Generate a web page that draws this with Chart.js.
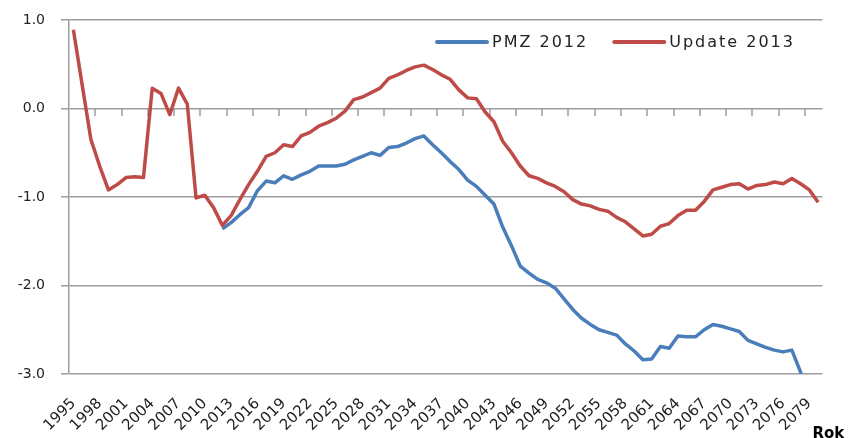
<!DOCTYPE html>
<html>
<head>
<meta charset="utf-8">
<script src="https://cdn.jsdelivr.net/npm/chart.js@4.4.0/dist/chart.umd.min.js"></script>
<style>
  html, body { margin: 0; padding: 0; background: #fff; }
  #wrap { width: 852px; height: 438px; position: relative; }
</style>
</head>
<body>
<div id="wrap"><canvas id="chart"></canvas></div>
<script>
// === Data ===
const years = [
  1995, 1996, 1997, 1998, 1999, 2000, 2001, 2002, 2003, 2004,
  2005, 2006, 2007, 2008, 2009, 2010, 2011, 2012, 2013, 2014,
  2015, 2016, 2017, 2018, 2019, 2020, 2021, 2022, 2023, 2024,
  2025, 2026, 2027, 2028, 2029, 2030, 2031, 2032, 2033, 2034,
  2035, 2036, 2037, 2038, 2039, 2040, 2041, 2042, 2043, 2044,
  2045, 2046, 2047, 2048, 2049, 2050, 2051, 2052, 2053, 2054,
  2055, 2056, 2057, 2058, 2059, 2060, 2061, 2062, 2063, 2064,
  2065, 2066, 2067, 2068, 2069, 2070, 2071, 2072, 2073, 2074,
  2075, 2076, 2077, 2078, 2079, 2080
];

// PMZ 2012 starts in 2012
const pmz2012 = [
  null, null, null, null, null, null, null, null, null, null,
  null, null, null, null, null, null, null, -1.36, -1.29, -1.20,
  -1.12, -0.93, -0.82, -0.84, -0.76, -0.80, -0.75, -0.71, -0.65, -0.65,
  -0.65, -0.63, -0.58, -0.54, -0.50, -0.53, -0.44, -0.43, -0.39, -0.34,
  -0.31, -0.41, -0.50, -0.60, -0.69, -0.81, -0.88, -0.98, -1.08, -1.34,
  -1.55, -1.78, -1.86, -1.93, -1.97, -2.03, -2.15, -2.27, -2.37, -2.44,
  -2.50, -2.53, -2.56, -2.66, -2.74, -2.84, -2.83, -2.69, -2.71, -2.57,
  -2.58, -2.58, -2.50, -2.44, -2.46, -2.49, -2.52, -2.62, -2.66, -2.70,
  -2.73, -2.75, -2.73, -2.98, -3.30, -3.55
];

const update2013 = [
  0.89, 0.27, -0.35, -0.65, -0.92, -0.86, -0.78, -0.77, -0.78, 0.23,
  0.17, -0.07, 0.23, 0.05, -1.01, -0.98, -1.12, -1.32, -1.21, -1.03,
  -0.86, -0.71, -0.54, -0.50, -0.41, -0.43, -0.31, -0.27, -0.20, -0.16,
  -0.11, -0.03, 0.10, 0.13, 0.18, 0.23, 0.34, 0.38, 0.43, 0.47,
  0.49, 0.44, 0.38, 0.33, 0.21, 0.12, 0.11, -0.04, -0.15, -0.37,
  -0.50, -0.65, -0.76, -0.79, -0.84, -0.88, -0.94, -1.03, -1.08, -1.10,
  -1.14, -1.16, -1.23, -1.28, -1.36, -1.44, -1.42, -1.33, -1.30, -1.21,
  -1.15, -1.15, -1.05, -0.92, -0.89, -0.86, -0.85, -0.91, -0.87, -0.86,
  -0.83, -0.85, -0.79, -0.85, -0.92, -1.06
];

const seriesNames = ["PMZ 2012", "Update 2013"];
const seriesColors = ["#4A7EBB", "#BE4B48"];
const yTicks = [-3, -2, -1, 0, 1];
const labelEvery = 3;
const axisTitle = "Rok";

const FONT = "'DejaVu Sans', Verdana, sans-serif";
const GRID = "#9d9d9d";

// === Plugins ===
// small tick marks on the zero line (the category axis crosses there)
const zeroLineTicks = {
  id: "zeroLineTicks",
  beforeDatasetsDraw(chart) {
    const xs = chart.scales.x;
    const ys = chart.scales.y;
    const c = chart.ctx;
    const y0 = Math.round(ys.getPixelForValue(0));
    c.save();
    c.strokeStyle = GRID;
    c.lineWidth = 1.5;
    c.beginPath();
    for (let i = labelEvery; i < years.length - 1; i += labelEvery) {
      const px = Math.round((xs.getPixelForValue(i - 1) + xs.getPixelForValue(i)) / 2);
      c.moveTo(px, y0);
      c.lineTo(px, y0 + 7);
    }
    c.stroke();
    c.restore();
  }
};

// legend inside the plot + axis title in the corner
const insideLegend = {
  id: "insideLegend",
  afterDraw(chart) {
    const c = chart.ctx;
    const area = chart.chartArea;
    c.save();
    c.font = "16px " + FONT;
    c.textBaseline = "middle";
    if ("letterSpacing" in c) c.letterSpacing = "2px";
    let x = area.left + 368;
    const y = area.top + 22;
    chart.data.datasets.forEach((ds) => {
      c.strokeStyle = ds.borderColor;
      c.lineWidth = 4;
      c.lineCap = "round";
      c.beginPath();
      c.moveTo(x, y);
      c.lineTo(x + 50, y);
      c.stroke();
      c.fillStyle = "#222";
      c.fillText(ds.label, x + 55, y + 1);
      x += 55 + c.measureText(ds.label).width + 26;
    });
    if ("letterSpacing" in c) c.letterSpacing = "0px";
    c.font = "bold 15px " + FONT;
    c.textBaseline = "top";
    c.fillStyle = "#000";
    c.fillText(axisTitle, area.right - 10, area.bottom + 53);
    c.restore();
  }
};

// === Chart ===
const ctx = document.getElementById("chart").getContext("2d");
new Chart(ctx, {
  type: "line",
  data: {
    labels: years,
    datasets: [
      {
        label: seriesNames[0],
        data: pmz2012,
        borderColor: seriesColors[0],
        backgroundColor: seriesColors[0],
        borderWidth: 3.5,
        borderJoinStyle: "round",
        pointRadius: 0,
        tension: 0,
        clip: 0,
        order: 1,
      },
      {
        label: seriesNames[1],
        data: update2013,
        borderColor: seriesColors[1],
        backgroundColor: seriesColors[1],
        borderWidth: 3.5,
        borderJoinStyle: "round",
        pointRadius: 0,
        tension: 0,
        clip: 0,
        order: 0,
      },
    ],
  },
  options: {
    responsive: true,
    maintainAspectRatio: false,
    animation: false,
    devicePixelRatio: 1,
    layout: { padding: { top: 20, right: 25, left: 0, bottom: 0 } },
    plugins: {
      legend: { display: false },
      tooltip: { enabled: false },
    },
    scales: {
      x: {
        offset: true,
        grid: { display: false, drawTicks: false },
        border: { display: false },
        ticks: {
          autoSkip: false,
          minRotation: 45,
          maxRotation: 45,
          padding: 21,
          color: "#222",
          font: { size: 15, family: FONT },
          callback: function (v, i) {
            return i % labelEvery === 0 ? String(years[i]) : "";
          },
        },
        afterFit(scale) {
          scale.height = 64;
        },
      },
      y: {
        min: yTicks[0],
        max: yTicks[yTicks.length - 1],
        ticks: {
          stepSize: 1,
          padding: 16,
          color: "#222",
          font: { size: 14, family: FONT },
          callback: (v) => v.toFixed(1),
        },
        grid: { color: GRID, lineWidth: 1.5, tickLength: 8, drawTicks: true },
        border: { display: true, color: GRID, width: 1.5 },
        afterFit(scale) {
          scale.width = 69;
          scale.paddingTop = 0;
          scale.paddingBottom = 0;
        },
      },
    },
  },
  plugins: [zeroLineTicks, insideLegend],
});
</script>
</body>
</html>
